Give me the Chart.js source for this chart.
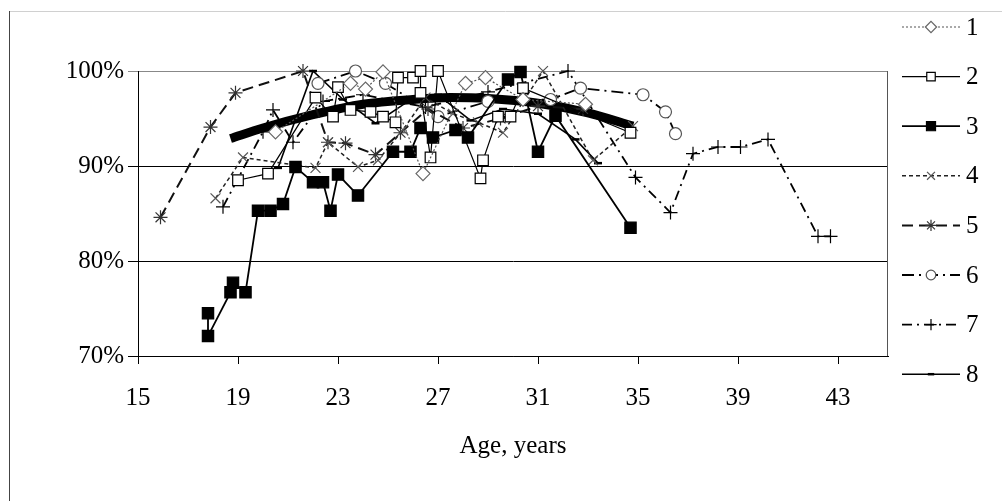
<!DOCTYPE html>
<html>
<head>
<meta charset="utf-8">
<script src="https://cdn.jsdelivr.net/npm/chart.js"></script>
<style>
  html, body { margin: 0; padding: 0; background: #fff; }
  #wrap { width: 1002px; height: 501px; }
</style>
</head>
<body>
<div id="wrap"><canvas id="ageChart" width="1002" height="501"></canvas></div>
<script>
const xTicks = [15, 19, 23, 27, 31, 35, 39, 43]
const yTicks = [70, 80, 90, 100]

// ages (years) and shares (%) per group
const age1 = [20.5, 23.5, 24.1, 24.8, 26.4, 28.1, 28.9, 30.4, 32.9]
const pct1 = [93.6, 98.7, 98.1, 99.9, 89.2, 98.7, 99.3, 97.0, 96.5]

const age2 = [19.0, 20.2, 22.1, 22.8, 23.0, 23.5, 24.3, 24.8, 25.3, 25.4, 26.0, 26.3, 26.3, 26.7, 27.0, 28.7, 28.8, 29.4, 29.9, 30.4, 34.7]
const pct2 = [88.5, 89.2, 97.2, 95.2, 98.3, 95.9, 95.7, 95.2, 94.6, 99.3, 99.3, 100, 97.7, 90.9, 100, 88.7, 90.6, 95.2, 95.2, 98.2, 93.5]

const age3 = [17.8, 17.8, 18.7, 18.8, 19.3, 19.8, 20.3, 20.8, 21.3, 22.0, 22.4, 22.7, 23.0, 23.8, 25.2, 25.9, 26.3, 26.8, 27.7, 28.2, 29.8, 30.3, 31.0, 31.7, 34.7]
const pct3 = [74.5, 72.1, 76.7, 77.7, 76.7, 85.3, 85.3, 86.0, 89.9, 88.3, 88.3, 85.3, 89.1, 86.9, 91.5, 91.5, 94.0, 93.0, 93.8, 93.0, 99.1, 99.9, 91.5, 95.3, 83.5]

const age4 = [18.1, 19.2, 22.1, 22.6, 23.8, 24.6, 25.6, 26.5, 27.6, 28.6, 29.6, 31.2, 33.2, 34.8]
const pct4 = [86.6, 90.9, 89.8, 92.5, 89.9, 90.6, 93.8, 97.2, 95.5, 94.6, 93.5, 100, 90.6, 94.2]

const age5 = [15.9, 17.9, 18.9, 21.6, 22.6, 23.3, 24.5, 25.5, 26.6, 28.0, 29.5, 31.0, 32.8]
const pct5 = [84.6, 94.1, 97.7, 100, 92.5, 92.4, 91.2, 93.5, 96.0, 94.0, 95.0, 96.3, 96.0]

const age6 = [22.2, 23.7, 24.9, 27.0, 29.0, 31.5, 32.7, 35.2, 36.1, 36.5]
const pct6 = [98.7, 100, 98.7, 95.2, 96.8, 97.0, 98.2, 97.5, 95.7, 93.4]

const age7 = [18.4, 20.0, 20.4, 21.2, 22.4, 24.0, 26.5, 29.0, 32.2, 34.9, 36.3, 37.2, 38.2, 39.1, 40.2, 42.2, 42.7]
const pct7 = [85.7, 93.6, 95.9, 92.5, 96.8, 97.5, 96.2, 97.8, 100, 88.8, 85.1, 91.3, 92.0, 92.0, 92.8, 82.6, 82.6]

const age8 = [20.6, 22.0, 23.2, 24.5, 25.8, 27.0, 28.3, 29.6, 31.0, 32.5, 33.4]
const pct8 = [89.8, 100, 97.0, 94.5, 96.8, 97.5, 94.8, 96.0, 95.5, 92.8, 90.3]

// thick trend curve
const ageTrend = [18.7, 20, 22, 24, 26, 27.5, 29, 31, 33, 34.8]
const pctTrend = [92.9, 94.0, 95.4, 96.5, 97.0, 97.2, 97.1, 96.6, 95.6, 94.2]

const serif = '"Liberation Serif", "Times New Roman", serif'

function pts(ages, pcts) {
  return ages.map((a, i) => ({ x: a, y: pcts[i] }))
}

function series(label, ages, pcts, style) {
  return Object.assign({
    label: label,
    data: pts(ages, pcts),
    showLine: true,
    fill: false,
    clip: false,
    tension: 0,
    borderColor: '#000',
    borderWidth: 1.3,
    borderDash: [],
    pointBorderColor: '#000',
    pointBackgroundColor: '#fff',
    pointBorderWidth: 1.2,
    pointRadius: 6
  }, style)
}

const frame = {
  id: 'frame',
  beforeDraw(chart) {
    const ctx = chart.ctx
    ctx.save()
    ctx.fillStyle = '#fff'
    ctx.fillRect(0, 0, chart.width, chart.height)
    ctx.lineWidth = 1
    ctx.strokeStyle = '#d0d0d0'
    ctx.beginPath(); ctx.moveTo(9, 11.5); ctx.lineTo(chart.width, 11.5); ctx.stroke()
    ctx.strokeStyle = '#444'
    ctx.beginPath(); ctx.moveTo(9.5, 11); ctx.lineTo(9.5, chart.height); ctx.stroke()
    ctx.restore()
  },
  beforeDatasetsDraw(chart) {
    const a = chart.chartArea
    const ctx = chart.ctx
    ctx.save()
    ctx.strokeStyle = '#555'
    ctx.lineWidth = 1
    ctx.beginPath(); ctx.moveTo(a.right - 0.5, a.top); ctx.lineTo(a.right - 0.5, a.bottom); ctx.stroke()
    ctx.restore()
  }
}

const sideLegend = {
  id: 'sideLegend',
  afterDraw(chart) {
    const ctx = chart.ctx
    const left = chart.chartArea.right + 14
    chart.data.datasets.forEach((ds, i) => {
      if (ds.noLegend) return
      const y = 27 + i * 49.6
      ctx.save()
      ctx.strokeStyle = ds.borderColor
      ctx.lineWidth = ds.borderWidth
      ctx.setLineDash(ds.borderDash || [])
      ctx.beginPath(); ctx.moveTo(left, y); ctx.lineTo(left + 58, y); ctx.stroke()
      ctx.setLineDash([])
      ctx.fillStyle = ds.pointBackgroundColor
      ctx.strokeStyle = ds.pointBorderColor
      ctx.lineWidth = ds.pointBorderWidth
      Chart.helpers.drawPoint(ctx, {
        pointStyle: ds.pointStyle, radius: ds.pointRadius * 0.8,
        borderWidth: ds.pointBorderWidth, rotation: 0
      }, left + 29, y)
      ctx.fillStyle = '#000'
      ctx.font = '25px ' + serif
      ctx.textBaseline = 'middle'
      ctx.fillText(ds.label, left + 64, y + 1)
      ctx.restore()
    })
  }
}

new Chart("ageChart", {
  type: "scatter",
  data: {
    datasets: [
      series("1", age1, pct1, { borderColor: '#555', borderWidth: 1.2, borderDash: [2, 2], pointStyle: 'rectRot', pointBorderColor: '#666', pointRadius: 7 }),
      series("2", age2, pct2, { borderWidth: 1.2, pointStyle: 'rect', pointRadius: 7.5 }),
      series("3", age3, pct3, { borderWidth: 1.8, pointStyle: 'rect', pointBackgroundColor: '#000', pointRadius: 8 }),
      series("4", age4, pct4, { borderColor: '#222', borderWidth: 1.5, borderDash: [4, 3], pointStyle: 'crossRot', pointBorderColor: '#555', pointRadius: 7 }),
      series("5", age5, pct5, { borderColor: '#111', borderWidth: 2, borderDash: [11, 6], pointStyle: 'star', pointBorderColor: '#333', pointRadius: 7 }),
      series("6", age6, pct6, { borderWidth: 1.8, borderDash: [12, 5, 2, 5], pointStyle: 'circle', pointBorderColor: '#555', pointRadius: 6 }),
      series("7", age7, pct7, { borderWidth: 1.8, borderDash: [10, 5, 2, 5], pointStyle: 'cross', pointRadius: 7 }),
      series("8", age8, pct8, { borderWidth: 1.6, pointStyle: 'line', pointBorderWidth: 2.5, pointRadius: 4 }),
      series("trend", ageTrend, pctTrend, { borderWidth: 9, pointRadius: 0, tension: 0.4, cubicInterpolationMode: 'monotone', noLegend: true })
    ]
  },
  options: {
    responsive: false,
    animation: false,
    layout: { padding: { left: 0, top: 71, right: 114, bottom: 0 } },
    plugins: {
      legend: { display: false },
      tooltip: { enabled: false }
    },
    scales: {
      x: {
        type: 'linear',
        min: 15,
        max: 45,
        afterBuildTicks: s => { s.ticks = xTicks.map(v => ({ value: v })) },
        afterFit: s => { s.height = 145 },
        grid: { drawOnChartArea: false, drawTicks: true, tickLength: 8, color: '#000' },
        border: { display: true, color: '#000', width: 1 },
        ticks: { color: '#000', padding: 19, font: { family: serif, size: 25 } },
        title: { display: true, text: 'Age, years', color: '#000', font: { family: serif, size: 25 }, padding: { top: 4, bottom: 40 } }
      },
      y: {
        min: 70,
        max: 100,
        afterBuildTicks: s => { s.ticks = yTicks.map(v => ({ value: v })) },
        afterFit: s => { s.width = 138 },
        grid: { color: c => (c.tick && c.tick.value === 100 ? '#888' : '#000'), tickLength: 10, drawTicks: true },
        border: { display: true, color: '#000', width: 1 },
        ticks: { color: '#000', padding: 4, font: { family: serif, size: 25 }, callback: v => v + '%' }
      }
    }
  },
  plugins: [frame, sideLegend]
})
</script>
</body>
</html>
